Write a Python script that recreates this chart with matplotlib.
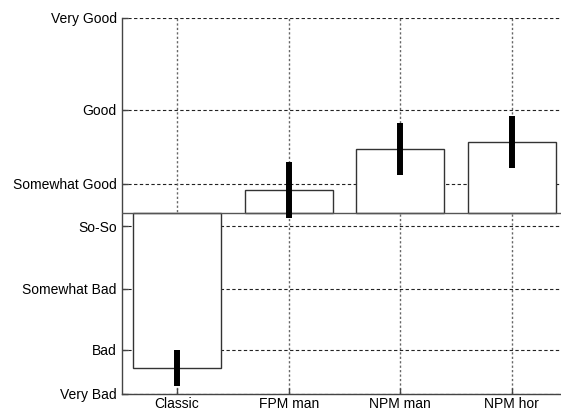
import matplotlib
matplotlib.use("Agg")
import matplotlib.pyplot as plt

# Rating scale (position of each verbal anchor on a 0-100 axis)
scale_labels = ["Very Bad", "Bad", "Somewhat Bad", "So-So", "Somewhat Good", "Good", "Very Good"]
scale_values = [0, 11.8, 28, 44.5, 55.8, 75.5, 100]
baseline = 48.2

# Mean ratings and error half-widths per method
methods = ["Classic", "FPM man", "NPM man", "NPM hor"]
means = [6.9, 54.2, 65.1, 66.9]
errors = [4.8, 7.4, 6.9, 6.9]

plt.rcParams["font.family"] = ["Liberation Sans", "DejaVu Sans"]
plt.rcParams["font.size"] = 10

fig = plt.figure(figsize=(5.61, 4.12), dpi=100)
ax = fig.add_axes([0.218, 0.0437, 0.782, 0.9138])

x = list(range(len(methods)))
heights = [m - baseline for m in means]

# grid lines under the bars
for v in scale_values:
    ax.axhline(v, color="#222222", lw=0.8, ls=(0, (3, 2.2)), zorder=0)
for xi in x:
    ax.axvline(xi, color="#666666", lw=1.0, ls=(0, (1.6, 1.6)), zorder=0)

ax.bar(x, heights, bottom=baseline, width=0.79, color="white",
       edgecolor="#333333", linewidth=1.0, zorder=2)
ax.axhline(baseline, color="#555555", lw=1.0, zorder=3)
ax.errorbar(x, means, yerr=errors, fmt="none", ecolor="black",
            elinewidth=4.3, capsize=0, zorder=4)

ax.set_xlim(-0.49, 3.44)
ax.set_ylim(0, 100)
ax.set_xticks(x)
ax.set_xticklabels(methods)
ax.set_yticks(scale_values)
ax.set_yticklabels(scale_labels)
ax.tick_params(direction="in", length=4, width=1, color="#444444")
ax.tick_params(axis="y", pad=4)
ax.tick_params(axis="x", pad=2)

for side in ["top", "right"]:
    ax.spines[side].set_visible(False)
for side in ["left", "bottom"]:
    ax.spines[side].set_color("#444444")
    ax.spines[side].set_linewidth(1.0)

fig.savefig("out.png", dpi=100)
